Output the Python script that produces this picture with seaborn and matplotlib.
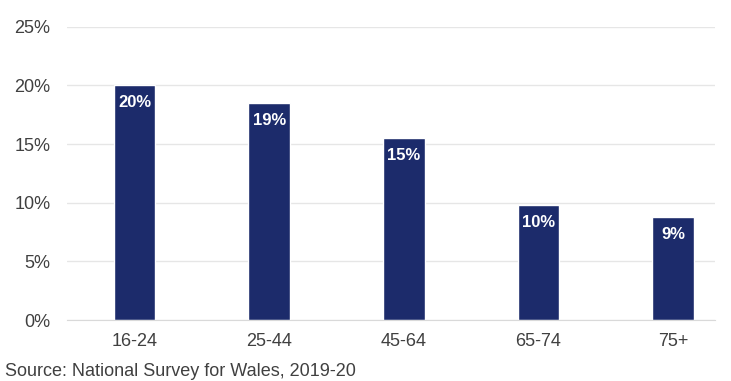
import matplotlib
matplotlib.use("Agg")
import matplotlib.pyplot as plt
import seaborn as sns
import pandas as pd
from matplotlib.ticker import PercentFormatter

# Data
age_groups = ["16-24", "25-44", "45-64", "65-74", "75+"]
percent = [20.0, 18.5, 15.5, 9.8, 8.8]
bar_labels = ["20%", "19%", "15%", "10%", "9%"]

df = pd.DataFrame({"age": age_groups, "pct": percent})

sns.set_style("white")
plt.rcParams["font.family"] = ["Liberation Sans", "DejaVu Sans"]

fig, ax = plt.subplots(figsize=(7.31, 3.81), dpi=100)
fig.subplots_adjust(left=0.092, right=0.978, top=0.93, bottom=0.16)

sns.barplot(data=df, x="age", y="pct", color="#1C2B6B", width=0.31,
            saturation=1, ax=ax)

# white value labels inside the top of each bar
for i, (v, lab) in enumerate(zip(percent, bar_labels)):
    ax.text(i, v - 1.5, lab, ha="center", va="center", color="white",
            fontsize=12, fontweight="bold")

ax.set_ylim(0, 25)
ax.set_yticks([0, 5, 10, 15, 20, 25])
ax.yaxis.set_major_formatter(PercentFormatter(decimals=0))
ax.yaxis.grid(True, color="#E6E6E6", linewidth=1)
ax.set_axisbelow(True)
ax.set_xlabel("")
ax.set_ylabel("")
sns.despine(ax=ax, left=True, bottom=False)
ax.spines["bottom"].set_color("#D9D9D9")
ax.tick_params(axis="both", length=0, labelsize=13, colors="#404040")
ax.tick_params(axis="x", pad=9)
ax.tick_params(axis="y", pad=12)
ax.set_xlim(-0.5, 4.31)

fig.text(0.007, 0.012, "Source: National Survey for Wales, 2019-20",
         fontsize=13, color="#404040")

fig.savefig("out.png", dpi=100)
